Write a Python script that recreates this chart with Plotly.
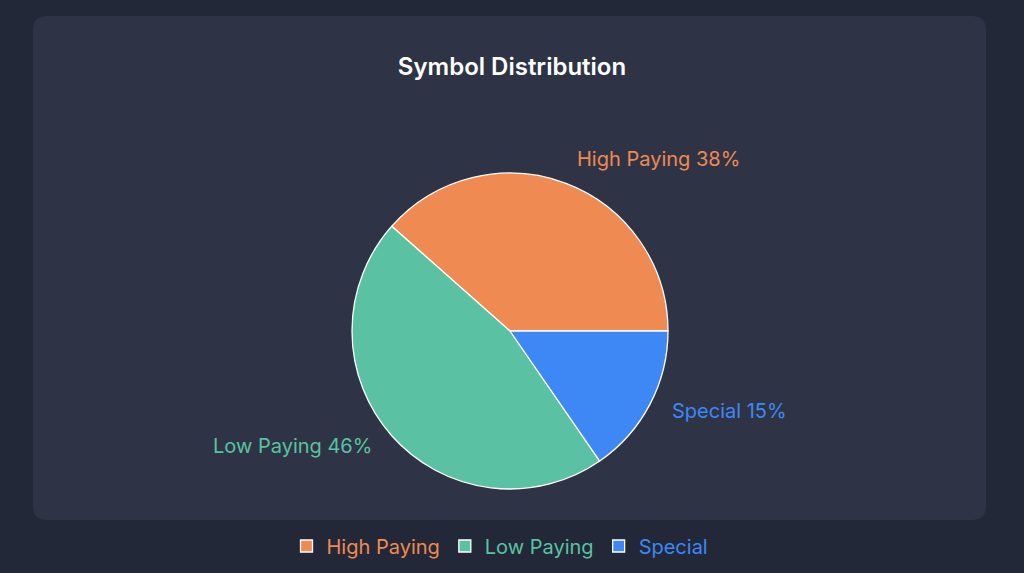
import math
import plotly.graph_objects as go

# ---- data ----
categories = ["High Paying", "Low Paying", "Special"]
symbol_counts = [5, 6, 2]          # -> 38%, 46%, 15%
slice_colors = ["#ef8a52", "#5ac2a2", "#3d88f5"]
title_text = "Symbol Distribution"

# ---- layout constants ----
W, H = 1024, 573
PAGE_BG = "#222837"
PANEL_BG = "#2e3445"
FONT = "Inter, Roboto, 'Noto Sans', sans-serif"

dom_x = [352 / W, 668 / W]
dom_y = [(H - 489) / H, (H - 173) / H]

legend_labels = [
    f"<span style='color:{c}'>{lab}</span>" for lab, c in zip(categories, slice_colors)
]

total = sum(symbol_counts)
# plotly (counterclockwise): rotation marks where the first slice ends;
# make the first slice start at 3 o'clock and run counterclockwise
rotation = 90 - 360 * symbol_counts[0] / total

fig = go.Figure()
fig.add_trace(go.Pie(
    labels=legend_labels,
    values=symbol_counts,
    sort=False,
    direction="counterclockwise",
    rotation=rotation,
    marker=dict(colors=slice_colors, line=dict(color="#ffffff", width=1.3)),
    textinfo="none",
    hoverinfo="skip",
    domain=dict(x=dom_x, y=dom_y),
))

# outside labels computed from the data (slice mid-angles)
cx = (dom_x[0] + dom_x[1]) / 2 * W
cy = (1 - (dom_y[0] + dom_y[1]) / 2) * H
r = (dom_x[1] - dom_x[0]) * W / 2
cum = 0
annotations = []
for lab, v, col in zip(categories, symbol_counts, slice_colors):
    frac = v / total
    mid = 2 * math.pi * (cum + frac / 2)
    cum += frac
    c, s = math.cos(mid), math.sin(mid)
    rl = r + 22
    px = cx + rl * c + (1 if c >= 0 else -1)
    py = cy - rl * s - 4
    annotations.append(dict(
        x=px / W, y=1 - py / H, xref="paper", yref="paper",
        text=f"{lab} {round(frac * 100)}%", showarrow=False,
        xanchor="left" if c >= 0 else "right", yanchor="middle",
        font=dict(size=20, color=col, family=FONT),
    ))

# rounded panel
x0, x1 = 33 / W, 986 / W
y0, y1 = 1 - 520 / H, 1 - 16 / H
rx, ry = 14 / W, 14 / H
panel_path = (
    f"M {x0+rx},{y0} L {x1-rx},{y0} Q {x1},{y0} {x1},{y0+ry} "
    f"L {x1},{y1-ry} Q {x1},{y1} {x1-rx},{y1} "
    f"L {x0+rx},{y1} Q {x0},{y1} {x0},{y1-ry} "
    f"L {x0},{y0+ry} Q {x0},{y0} {x0+rx},{y0} Z"
)

fig.update_layout(
    width=W, height=H,
    margin=dict(l=0, r=0, t=0, b=0),
    paper_bgcolor=PAGE_BG,
    plot_bgcolor=PAGE_BG,
    font=dict(family=FONT, color="#ffffff"),
    title=dict(
        text=title_text, x=0.5, xanchor="center", y=1 - 67 / H, yanchor="middle",
        font=dict(size=24, color="#ffffff", family=FONT, weight=600),
    ),
    shapes=[dict(type="path", path=panel_path, xref="paper", yref="paper",
                 fillcolor=PANEL_BG, line=dict(width=0), layer="below")],
    annotations=annotations,
    showlegend=True,
    legend=dict(
        orientation="h", x=0.5 - 12 / W, xanchor="center", y=1 - 546 / H, yanchor="middle",
        font=dict(size=20, family=FONT), bgcolor="rgba(0,0,0,0)",
        itemwidth=30, tracegroupgap=0,
    ),
)

fig.write_html(
    "out.html",
    config={"displayModeBar": False},
    post_script="document.body.style.margin='0';document.body.style.background='" + PAGE_BG + "';",
)
